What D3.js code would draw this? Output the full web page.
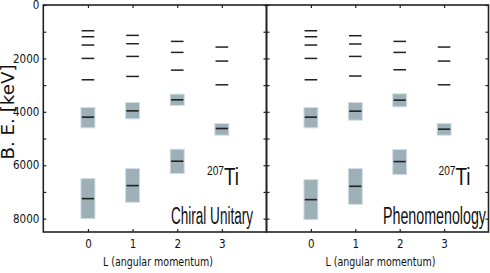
<!DOCTYPE html>
<html>
<head>
<meta charset="utf-8">
<script src="https://cdn.jsdelivr.net/npm/d3@7"></script>
<style>
  body { margin: 0; background: #fff; }
  svg { display: block; }
  .tick text { font-family: "DejaVu Sans Condensed", "DejaVu Sans", sans-serif; fill: #111; }
</style>
</head>
<body>
<div id="chart"></div>
<script>
var W = 490, H = 273;

// chart values
var angMom = [0, 1, 2, 3];
var yTickValues = [0, 1000, 2000, 3000, 4000, 5000, 6000, 7000, 8000];
var yTickLabels = ['0', '', '2000', '', '4000', '', '6000', '', '8000'];
var panelNames = ['Chiral Unitary', 'Phenomenology'];
var nucleusMass = '207';
var nucleusName = 'Ti';

// sharp levels [keV], one list per L
var chiralLevels = [
  [964, 1189, 1500, 2000, 2800],
  [1138, 1450, 1925, 2675],
  [1363, 1775, 2438],
  [1575, 2100, 2988]
];
var phenoLevels = [
  [964, 1189, 1500, 2000, 2800],
  [1150, 1460, 1925, 2660],
  [1363, 1775, 2425],
  [1575, 2100, 2988]
];
// broad states: L, low edge, centre, high edge [keV]
var chiralBands = [
  [0, 3838, 4200, 4600], [0, 6500, 7250, 8000],
  [1, 3650, 3963, 4263], [1, 6125, 6763, 7388],
  [2, 3338, 3550, 3763], [2, 5400, 5850, 6313],
  [3, 4438, 4625, 4875]
];
var phenoBands = [
  [0, 3838, 4200, 4600], [0, 6538, 7288, 8038],
  [1, 3650, 3975, 4313], [1, 6125, 6788, 7463],
  [2, 3325, 3563, 3813], [2, 5413, 5863, 6350],
  [3, 4438, 4650, 4875]
];

var svg = d3.select('#chart').append('svg')
  .attr('width', W)
  .attr('height', H);

var yTop = 5, yBot = 232;
var y = d3.scaleLinear().domain([0, 8500]).range([yTop, yBot]);

var panels = [
  { x0: 43.3, x1: 266.5, levels: chiralLevels, bands: chiralBands, name: panelNames[0], nameW: 82, nameX: 171, isoX: 207 },
  { x0: 266.5, x1: 488.5, levels: phenoLevels, bands: phenoBands, name: panelNames[1], nameW: 103, nameX: 383, isoX: 438.5 }
];

var ink = '#222';

panels.forEach(function (p, i) {
  var x = d3.scaleLinear().domain([-1, 4]).range([p.x0, p.x1]);
  var g = svg.append('g');

  // broad states
  g.selectAll('rect.band')
    .data(p.bands)
    .enter()
    .append('rect')
    .attr('class', 'band')
    .attr('x', d => x(d[0] - 0.157))
    .attr('width', d => x(d[0] + 0.157) - x(d[0] - 0.157))
    .attr('y', d => y(d[1]))
    .attr('height', d => y(d[3]) - y(d[1]))
    .attr('fill', '#9db0b8')
    .attr('stroke', '#d3dde2')
    .attr('stroke-width', 1);

  g.selectAll('line.mid')
    .data(p.bands)
    .enter()
    .append('line')
    .attr('class', 'mid')
    .attr('x1', d => x(d[0] - 0.138))
    .attr('x2', d => x(d[0] + 0.138))
    .attr('y1', d => y(d[2]))
    .attr('y2', d => y(d[2]))
    .attr('stroke', ink)
    .attr('stroke-width', 1.6);

  // sharp levels
  var flat = [];
  p.levels.forEach(function (list, l) {
    list.forEach(function (e) { flat.push([angMom[l], e]); });
  });
  g.selectAll('line.lev')
    .data(flat)
    .enter()
    .append('line')
    .attr('class', 'lev')
    .attr('x1', d => x(d[0] - 0.142))
    .attr('x2', d => x(d[0] + 0.142))
    .attr('y1', d => y(d[1]))
    .attr('y2', d => y(d[1]))
    .attr('stroke', ink)
    .attr('stroke-width', 1.5);

  // axes: bottom with labels, top / left / right ticks only
  var xb = g.append('g')
    .attr('transform', 'translate(0,' + yBot + ')')
    .call(d3.axisBottom(x).tickValues(angMom).tickFormat(d3.format('d'))
      .tickSizeInner(-3).tickSizeOuter(0).tickPadding(8));
  xb.selectAll('text').attr('font-size', 11.5);

  g.append('g')
    .attr('transform', 'translate(0,' + yTop + ')')
    .call(d3.axisTop(x).tickValues(angMom).tickFormat('').tickSizeInner(-3).tickSizeOuter(0));

  var yl = g.append('g')
    .attr('transform', 'translate(' + p.x0 + ',0)')
    .call(d3.axisLeft(y).tickValues(yTickValues)
      .tickFormat((d, k) => i === 0 ? yTickLabels[k] : '')
      .tickSizeInner(-3).tickSizeOuter(0).tickPadding(4));
  yl.selectAll('text').attr('font-size', 11.5);

  g.append('g')
    .attr('transform', 'translate(' + p.x1 + ',0)')
    .call(d3.axisRight(y).tickValues(yTickValues).tickFormat('').tickSizeInner(-3).tickSizeOuter(0));

  g.selectAll('.domain').remove();
  g.selectAll('.tick line').attr('stroke', ink).attr('stroke-width', 1.2);

  g.append('rect')
    .attr('x', p.x0)
    .attr('y', yTop)
    .attr('width', p.x1 - p.x0)
    .attr('height', yBot - yTop)
    .attr('fill', 'none')
    .attr('stroke', ink)
    .attr('stroke-width', 1.6);

  // x title
  g.append('text')
    .attr('x', (p.x0 + p.x1) / 2 + 3)
    .attr('y', 266)
    .attr('text-anchor', 'middle')
    .attr('font-family', 'DejaVu Sans Condensed, DejaVu Sans, sans-serif')
    .attr('font-size', 12)
    .attr('textLength', 110)
    .attr('lengthAdjust', 'spacingAndGlyphs')
    .attr('fill', '#111')
    .text('L (angular momentum)');

  // isotope label
  g.append('text')
    .attr('x', p.isoX)
    .attr('y', 175)
    .attr('font-family', 'Liberation Sans, Arial, sans-serif')
    .attr('font-size', 12.5)
    .attr('textLength', 17)
    .attr('lengthAdjust', 'spacingAndGlyphs')
    .attr('fill', '#111')
    .text(nucleusMass);
  g.append('text')
    .attr('x', p.isoX + 17)
    .attr('y', 185)
    .attr('font-family', 'Liberation Sans, Arial, sans-serif')
    .attr('font-size', 23.5)
    .attr('textLength', 15)
    .attr('lengthAdjust', 'spacingAndGlyphs')
    .attr('fill', '#111')
    .text(nucleusName);

  // panel name
  g.append('text')
    .attr('x', p.nameX)
    .attr('y', 224)
    .attr('font-family', 'Liberation Sans, Arial, sans-serif')
    .attr('font-size', 23.5)
    .attr('textLength', p.nameW)
    .attr('lengthAdjust', 'spacingAndGlyphs')
    .attr('fill', '#111')
    .text(p.name);
});

// y title
svg.append('text')
  .attr('transform', 'translate(13.5,112) rotate(-90)')
  .attr('text-anchor', 'middle')
  .attr('font-family', 'DejaVu Sans, sans-serif')
  .attr('font-size', 17)
  .attr('textLength', 95)
  .attr('lengthAdjust', 'spacingAndGlyphs')
  .attr('fill', '#111')
  .text('B. E. [keV]');
</script>
</body>
</html>
